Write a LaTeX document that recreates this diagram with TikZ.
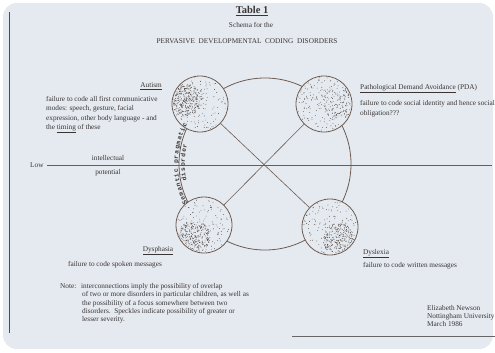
\documentclass[tikz,border=0pt]{standalone}
\usepackage{fontspec}
\setmainfont{Liberation Serif}
\newfontfamily\monof{Liberation Mono}
\usetikzlibrary{decorations.text,calc}
\definecolor{bgc}{HTML}{E4EAF0}
\definecolor{txc}{HTML}{3A3434}
\definecolor{lnc}{HTML}{6E5C52}
\definecolor{dotc}{HTML}{4A3E37}
\newcommand\txt{\fontsize{7.3}{8.2}\selectfont}
\newcommand\arcfont{\monof\bfseries\fontsize{6.4}{6.4}\selectfont}
\newcommand\mkspeckles[6]{%
  \begin{scope}
    \clip (#1.center) circle[radius=27];
    \pgfmathsetseed{#6}
    \foreach \k in {1,...,#2}{
      \pgfmathsetmacro\ang{360*rnd}
      \pgfmathsetmacro\rad{27*sqrt(rnd)}
      \fill[dotc] ([shift={(\ang:\rad)}]#1.center) circle[radius=0.4];
    }
    \foreach \k in {1,...,#3}{
      \pgfmathsetmacro\ang{360*rnd}
      \pgfmathsetmacro\rad{#5*sqrt(rnd)}
      \fill[dotc] ([shift={(#4:15)}]#1.center) ++(\ang:\rad) circle[radius=0.4];
    }
  \end{scope}}
\tikzset{
  lbl/.style={font=\txt, text=txc, inner sep=0pt},
  disk/.style={circle, draw=lnc, line width=0.8pt, fill=bgc, minimum size=56bp, inner sep=0pt},
  conn/.style={draw=lnc, line width=0.6pt},
}
\begin{document}
\begin{tikzpicture}[x=1bp,y=1bp]
\useasboundingbox (0,0) rectangle (495,352);
\fill[white] (0,0) rectangle (495,352);
\fill[bgc, rounded corners=14bp] (3,3) rectangle (493,349);
% frame lines
\coordinate (vtop) at (9,340);
\coordinate (vbot) at (9,19);
\draw[line width=0.8pt, color=black!70] (vtop) -- (vbot);
\coordinate (bl) at (292,16);
\coordinate (br) at (495,16);
\draw[line width=0.6pt, color=black!60] (bl) -- (br);
% titles
\node[lbl, font=\fontsize{10.5}{12}\selectfont\bfseries, anchor=base] (title) at (252,338.5) {\underline{Table 1}};
\node[lbl, anchor=base] (schema) at (251,324.5) {Schema for the};
\node[lbl, anchor=base] (pdcd) at (247,308.5) {PERVASIVE\ \ DEVELOPMENTAL\ \ CODING\ \ DISORDERS};
% low line
\coordinate (lowa) at (47,187);
\coordinate (lowb) at (492,187);
\draw[conn, line width=0.5pt] (lowa) -- (lowb);
\node[lbl, anchor=base west] (low) at (30,185) {Low};
\node[lbl, anchor=base] (intel) at (108,191.5) {intellectual};
\node[lbl, anchor=base] (poten) at (108,177.5) {potential};
% big circle
\node[circle, draw=lnc, line width=0.8pt, minimum size=172bp, inner sep=0pt] (big) at (265,188) {};
% small circles
\node[disk] (A) at (200,248) {};
\node[disk] (P) at (324,248) {};
\node[disk] (D) at (204,127) {};
\node[disk] (L) at (330,125) {};
\draw[conn] (A) -- (L);
\draw[conn] (P) -- (D);
% speckles
\mkspeckles{A}{130}{330}{165}{16}{11}
\mkspeckles{P}{190}{110}{0}{17}{23}
\mkspeckles{D}{120}{280}{230}{16}{37}
\mkspeckles{L}{120}{280}{-55}{16}{41}
% text along left arc
\path[decorate, decoration={text along path, text format delimiters={|}{|}, text={|\arcfont|Semantic pragmatic}, text align={fit to path}, raise=1.2pt, text color=txc}]
  ([shift={(207:86)}]big.center) arc[start angle=207, end angle=153, radius=86];
\path[decorate, decoration={text along path, text format delimiters={|}{|}, text={|\arcfont|disorder}, text align={fit to path}, raise=-5.8pt, text color=txc}]
  ([shift={(192:86)}]big.center) arc[start angle=192, end angle=166, radius=86];
% Autism
\node[lbl, anchor=base east] (aut) at (162,264.5) {\underline{Autism}};
\node[lbl, anchor=base west] (aut1) at (46,250.3) {failure to code all first communicative};
\node[lbl, anchor=base west] (aut2) at (46,241.1) {modes: speech, gesture, facial};
\node[lbl, anchor=base west] (aut3) at (46,231.9) {expression, other body language - and};
\node[lbl, anchor=base west] (aut4) at (46,222.6) {the \underline{timing} of these};
% PDA
\node[lbl, anchor=base west] (pda) at (360,262.5) {\underline{Pathological Demand Avoidance} (PDA)};
\node[lbl, anchor=base west] (pda1) at (360,246.5) {failure to code social identity and hence social};
\node[lbl, anchor=base west] (pda2) at (360,236.5) {obligation???};
% Dysphasia
\node[lbl, anchor=base] (dys) at (158,100.5) {\underline{Dysphasia}};
\node[lbl, anchor=base west] (dys1) at (68,85.5) {failure to code spoken messages};
% Dyslexia
\node[lbl, anchor=base west] (dxl) at (363,97.5) {\underline{Dyslexia}};
\node[lbl, anchor=base west] (dxl1) at (363,84.5) {failure to code written messages};
% Note
\node[lbl, anchor=base west] (note) at (60,63.5) {Note:};
\node[lbl, anchor=base west] (n1) at (81,63.5) {interconnections imply the possibility of overlap};
\node[lbl, anchor=base west] (n2) at (82,55.2) {of two or more disorders in particular children, as well as};
\node[lbl, anchor=base west] (n3) at (82,47.0) {the possibility of a focus somewhere between two};
\node[lbl, anchor=base west] (n4) at (82,38.8) {disorders.\ \ Speckles indicate possibility of greater or};
\node[lbl, anchor=base west] (n5) at (82,30.6) {lesser severity.};
% signature
\node[lbl, anchor=base west] (s1) at (427,41.5) {Elizabeth Newson};
\node[lbl, anchor=base west] (s2) at (427,33.5) {Nottingham University};
\node[lbl, anchor=base west] (s3) at (427,25.5) {March 1986};
\end{tikzpicture}
\end{document}
